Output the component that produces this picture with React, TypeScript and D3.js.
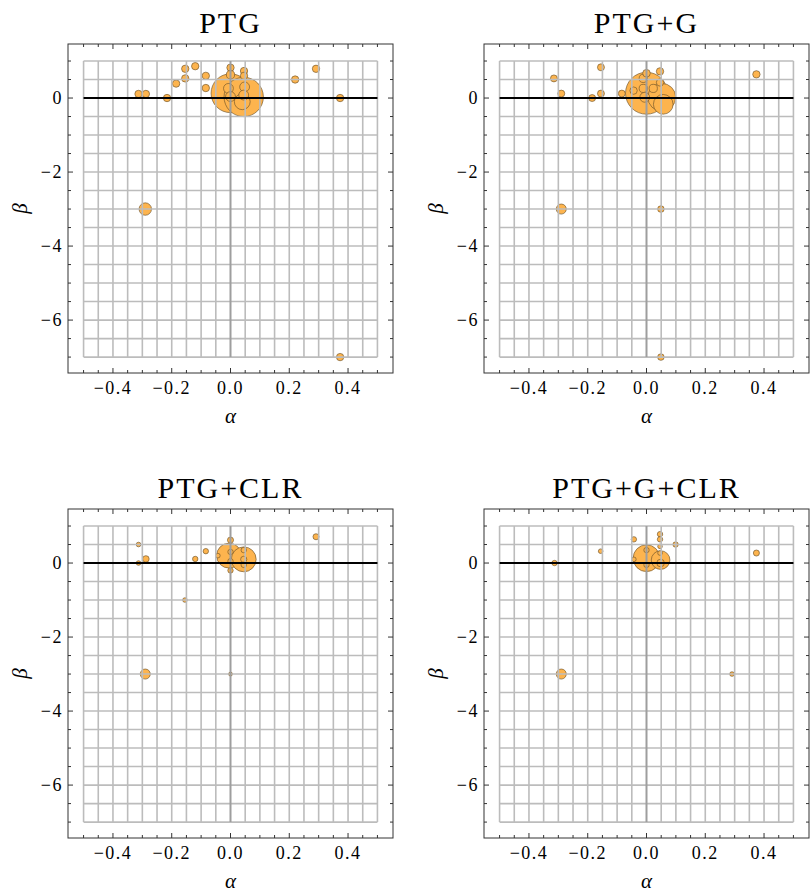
import React, { useEffect, useRef } from 'react';
import * as d3 from 'd3';

// PTG
const ptgAlpha = [0, 0.045, 0.04, -0.007, 0, 0.048, 0.045, 0, 0, 0.046, 0.046, -0.313, -0.288, -0.216, -0.185, -0.154, -0.154, -0.12, -0.084, -0.084, 0.22, 0.291, 0.373, -0.29, 0.373];
const ptgBeta = [0.13, 0.03, -0.1, 0.26, 0.04, 0.3, 0.08, 0.82, 0.63, 0.73, 0.6, 0.11, 0.11, 0, 0.39, 0.53, 0.79, 0.86, 0.6, 0.27, 0.5, 0.79, 0, -3, -7];
const ptgSize = [78, 80, 13, 5, 5, 5, 5, 2.8, 3.5, 2.8, 2.8, 2.8, 2.8, 2.8, 2.8, 2.8, 2.8, 2.8, 2.8, 2.8, 2.8, 2.8, 2.8, 8, 2.8];

// PTG+G
const ptggAlpha = [0, 0.052, 0.057, -0.011, -0.011, 0.023, -0.006, 0, 0.046, 0.046, -0.044, -0.315, -0.29, -0.155, -0.185, -0.155, -0.084, 0.374, -0.29, 0.049, 0.049];
const ptggBeta = [0.13, 0.02, -0.17, 0.53, 0.26, 0.26, 0.02, 0.67, 0.72, 0.42, 0.2, 0.53, 0.12, 0.83, 0, 0.12, 0.12, 0.64, -3, -3, -7];
const ptggSize = [91, 40, 20, 3.5, 3.5, 3.5, 5, 3, 2.8, 2.8, 2.8, 2.5, 2.5, 2.5, 2.5, 2.5, 2.5, 2.8, 5.2, 2.2, 2.2];

// PTG+CLR
const ptgcAlpha = [-0.005, 0.045, 0, 0, 0, 0.045, 0.045, 0.045, -0.313, -0.313, -0.288, -0.12, -0.084, -0.155, -0.043, 0, 0.291, -0.29, 0];
const ptgcBeta = [0.2, 0.1, 0.3, 0.05, -0.2, 0.35, 0.1, -0.05, 0.5, 0, 0.11, 0.11, 0.32, -1, 0.2, 0.62, 0.71, -3, -3];
const ptgcSize = [32, 32, 1.5, 1.5, 1.5, 1.5, 2, 1.5, 1.1, 1.1, 2.25, 1.5, 1.5, 1.1, 1.1, 1.9, 1.9, 5.2, 0.8];

// PTG+G+CLR
const ptggcAlpha = [0, 0.048, 0, 0, 0.048, -0.313, -0.156, -0.043, -0.043, 0.046, 0.046, 0.046, 0.046, 0.099, 0.374, -0.29, 0.291];
const ptggcBeta = [0.13, 0.08, 0.35, -0.05, 0, 0, 0.32, 0.64, 0.1, 0.78, 0.64, 0.45, 0.27, 0.5, 0.27, -3, -3];
const ptggcSize = [37, 18, 1.5, 1.5, 3, 1.5, 1.1, 1.5, 1.1, 1.5, 1.5, 1.1, 1.1, 1.5, 1.9, 5.2, 1.1];

const titles = ['PTG', 'PTG+G', 'PTG+CLR', 'PTG+G+CLR'];
const xTicks = [-0.4, -0.2, 0, 0.2, 0.4];
const yTicks = [-6, -4, -2, 0];

const serif = "'Liberation Serif', 'Times New Roman', 'DejaVu Serif', serif";

const App = () => {
  const svgRef = useRef(null);

  useEffect(() => {
    const svg = d3.select(svgRef.current);
    svg.selectAll('*').remove();
    const width = 812;
    const height = 895;
    svg.attr('width', width).attr('height', height);

    const panels = [
      { alpha: ptgAlpha, beta: ptgBeta, size: ptgSize },
      { alpha: ptggAlpha, beta: ptggBeta, size: ptggSize },
      { alpha: ptgcAlpha, beta: ptgcBeta, size: ptgcSize },
      { alpha: ptggcAlpha, beta: ptggcBeta, size: ptggcSize },
    ];

    const w = 325;
    const h = 329;
    const rScale = d3.scaleSqrt().domain([0, 100]).range([0, 22]);
    const fmt = d3.format('.1f');

    panels.forEach((p, i) => {
      const col = i % 2;
      const row = Math.floor(i / 2);
      const left = 68 + col * 416;
      const top = 44 + row * 465;

      const x = d3.scaleLinear().domain([-0.553, 0.553]).range([left, left + w]);
      const y = d3.scaleLinear().domain([-7.43, 1.46]).range([top + h, top]);

      const g = svg.append('g');

      // bubbles
      const pts = p.alpha.map((a, k) => ({ a, b: p.beta[k], s: p.size[k] }));
      g.selectAll('circle.bub')
        .data(pts)
        .enter()
        .append('circle')
        .attr('cx', d => x(d.a))
        .attr('cy', d => y(d.b))
        .attr('r', d => rScale(d.s))
        .attr('fill', '#fdb44e')
        .attr('stroke', 'rgba(105,80,40,0.7)')
        .attr('stroke-width', 0.9);

      // grid lines (in front)
      const gx = d3.range(-10, 11).map(k => k * 0.05);
      const gy = d3.range(-14, 3).map(k => k * 0.5);
      g.selectAll('line.gx')
        .data(gx.filter(v => Math.abs(v) > 1e-9))
        .enter()
        .append('line')
        .attr('x1', d => x(d)).attr('x2', d => x(d))
        .attr('y1', y(1)).attr('y2', y(-7))
        .attr('stroke', '#bcbcbc')
        .attr('stroke-width', 1.6);
      g.selectAll('line.gy')
        .data(gy.filter(v => Math.abs(v) > 1e-9))
        .enter()
        .append('line')
        .attr('x1', x(-0.5)).attr('x2', x(0.5))
        .attr('y1', d => y(d)).attr('y2', d => y(d))
        .attr('stroke', '#bcbcbc')
        .attr('stroke-width', 1.6);

      g.append('line')
        .attr('x1', x(0)).attr('x2', x(0))
        .attr('y1', y(1)).attr('y2', y(-7))
        .attr('stroke', '#9e9e9e')
        .attr('stroke-width', 2);
      g.append('line')
        .attr('x1', x(-0.5)).attr('x2', x(0.5))
        .attr('y1', y(0)).attr('y2', y(0))
        .attr('stroke', '#000')
        .attr('stroke-width', 2);

      // frame
      g.append('rect')
        .attr('x', left).attr('y', top)
        .attr('width', w).attr('height', h)
        .attr('fill', 'none')
        .attr('stroke', '#333')
        .attr('stroke-width', 1);

      // ticks, pointing inward on all four sides
      const xt = d3.range(-10, 11).map(k => k * 0.05);
      xt.forEach(v => {
        const major = Math.abs(v * 5 - Math.round(v * 5)) < 1e-6 && Math.abs(v) < 0.45;
        const len = major ? 5 : 3;
        g.append('line')
          .attr('x1', x(v)).attr('x2', x(v))
          .attr('y1', top + h).attr('y2', top + h - len)
          .attr('stroke', '#333').attr('stroke-width', 1);
        g.append('line')
          .attr('x1', x(v)).attr('x2', x(v))
          .attr('y1', top).attr('y2', top + len)
          .attr('stroke', '#333').attr('stroke-width', 1);
      });
      const yt = d3.range(-14, 3).map(k => k * 0.5);
      yt.forEach(v => {
        const major = v % 2 === 0 && v > -7;
        const len = major ? 5 : 3;
        g.append('line')
          .attr('x1', left).attr('x2', left + len)
          .attr('y1', y(v)).attr('y2', y(v))
          .attr('stroke', '#333').attr('stroke-width', 1);
        g.append('line')
          .attr('x1', left + w).attr('x2', left + w - len)
          .attr('y1', y(v)).attr('y2', y(v))
          .attr('stroke', '#333').attr('stroke-width', 1);
      });

      g.selectAll('text.xl')
        .data(xTicks)
        .enter()
        .append('text')
        .attr('x', d => x(d))
        .attr('y', top + h + 21)
        .attr('text-anchor', 'middle')
        .style('font-family', serif)
        .style('font-size', '18px')
        .style('letter-spacing', '1.5px')
        .text(d => fmt(d));

      g.selectAll('text.yl')
        .data(yTicks)
        .enter()
        .append('text')
        .attr('x', left - 5)
        .attr('y', d => y(d))
        .attr('dy', '0.35em')
        .attr('text-anchor', 'end')
        .style('font-family', serif)
        .style('font-size', '18px')
        .style('letter-spacing', '1.5px')
        .text(d => (d < 0 ? '\u2212' + Math.abs(d) : String(d)));

      g.append('text')
        .attr('x', x(0))
        .attr('y', top - 11)
        .attr('text-anchor', 'middle')
        .style('font-family', serif)
        .style('font-size', '30px')
        .style('letter-spacing', '2px')
        .text(titles[i]);

      g.append('text')
        .attr('x', x(0))
        .attr('y', top + h + 50)
        .attr('text-anchor', 'middle')
        .style('font-family', serif)
        .style('font-style', 'italic')
        .style('font-size', '21px')
        .text('\u03b1');

      g.append('text')
        .attr('transform', `translate(${left - 48},${top + h / 2}) rotate(-90)`)
        .attr('text-anchor', 'middle')
        .attr('dy', '0.35em')
        .style('font-family', serif)
        .style('font-style', 'italic')
        .style('font-size', '21px')
        .text('\u03b2');
    });
  }, []);

  return (
    <div style={{ position: 'absolute', left: 0, top: 0 }}>
      <svg ref={svgRef} style={{ display: 'block', background: '#fff' }}></svg>
    </div>
  );
};

export default App;
